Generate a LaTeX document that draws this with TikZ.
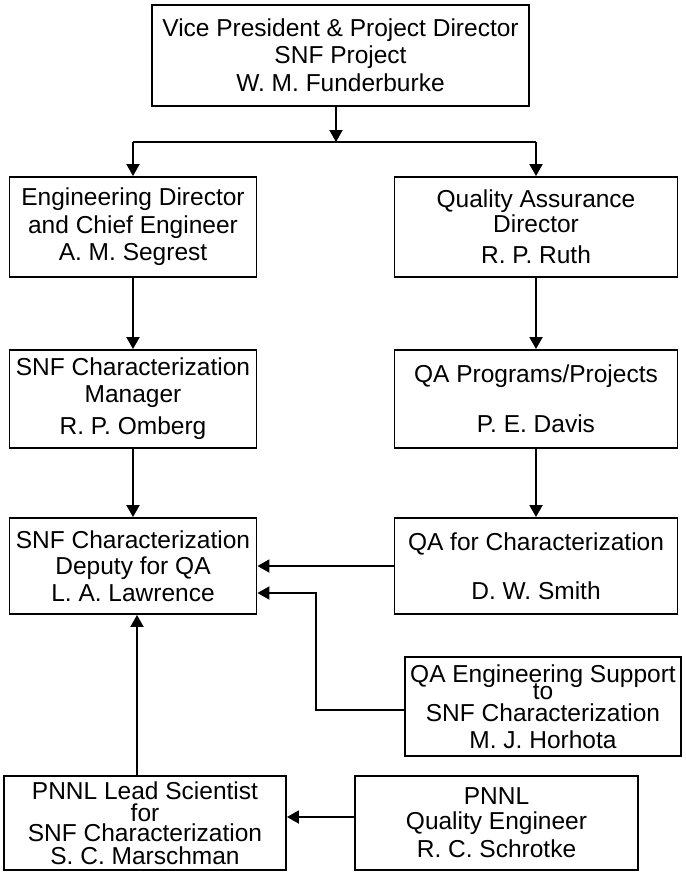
\documentclass[tikz,border=0pt]{standalone}
\usepackage{fontspec}
\setmainfont{Liberation Sans}
\usetikzlibrary{arrows.meta}
\begin{document}
\begin{tikzpicture}[x=1pt,y=-1pt,
  box/.style={draw, line width=1.9pt, inner sep=0pt, align=center, font=\fontsize{24.5}{26.5}\selectfont},
  wire/.style={line width=1.9pt},
  arr/.style={line width=1.9pt, -{Triangle[width=13pt,length=12pt]}}]
\useasboundingbox (0,0) rectangle (685,872);
% boxes
\node[box, minimum width=377pt, minimum height=101pt] (vp) at (340.5,55.5)
  {Vice President \& Project Director\\[0.5pt]SNF Project\\[1.5pt]W. M. Funderburke};
\node[box, minimum width=247pt, minimum height=100pt] (eng) at (133,227)
  {Engineering Director\\[1.5pt]and Chief Engineer\\[0.5pt]A. M. Segrest};
\node[box, minimum width=283pt, minimum height=100pt] (qad) at (536,227)
  {Quality Assurance\\[-1.5pt]Director\\[4.5pt]R. P. Ruth};
\node[box, minimum width=247pt, minimum height=98pt] (mgr) at (133,399)
  {SNF Characterization\\[0.5pt]Manager\\[5.5pt]R. P. Omberg};
\node[box, minimum width=283pt, minimum height=98pt] (qap) at (536,399)
  {QA Programs/Projects\\[23.5pt]P. E. Davis};
\node[box, minimum width=247pt, minimum height=96pt] (dep) at (133,566)
  {SNF Characterization\\Deputy for QA\\L. A. Lawrence};
\node[box, minimum width=283pt, minimum height=96pt] (qac) at (536,566)
  {QA for Characterization\\[22pt]D. W. Smith};
\node[box, minimum width=276pt, minimum height=99pt] (qae) at (543,706.5)
  {QA Engineering Support\\[-9.5pt]to\\[-4.5pt]SNF Characterization\\M. J. Horhota};
\node[box, minimum width=282pt, minimum height=94pt] (pnl) at (145,823)
  {PNNL Lead Scientist\\[-4.5pt]for\\[-6.5pt]SNF Characterization\\[-3.5pt]S. C. Marschman};
\node[box, minimum width=283pt, minimum height=94pt] (pqe) at (496.5,823)
  {PNNL\\[-1.5pt]Quality Engineer\\[1.5pt]R. C. Schrotke};
% helper coordinates
\coordinate (split) at (336,142);
\coordinate (sl) at (133,142);
\coordinate (sr) at (536,142);
\coordinate (y1) at (0,566);
\coordinate (y2) at (0,593);
\coordinate (y3) at (0,710);
\coordinate (bendA) at (316,710);
\coordinate (bendB) at (316,593);
\coordinate (xv) at (137,0);
\coordinate (y4) at (0,817);
% connectors
\draw[arr] (vp.south -| split) -- (split);
\draw[wire] (sl) -- (sr);
\draw[arr] (sl) -- (eng.north);
\draw[arr] (sr) -- (qad.north);
\draw[arr] (eng.south) -- (mgr.north);
\draw[arr] (qad.south) -- (qap.north);
\draw[arr] (mgr.south) -- (dep.north);
\draw[arr] (qap.south) -- (qac.north);
\draw[arr] (qac.west |- y1) -- (dep.east |- y1);
\draw[arr] (qae.west |- y3) -- (bendA) -- (bendB) -- (dep.east |- y2);
\draw[arr] (pnl.north -| xv) -- (dep.south -| xv);
\draw[arr] (pqe.west |- y4) -- (pnl.east |- y4);
\end{tikzpicture}
\end{document}
